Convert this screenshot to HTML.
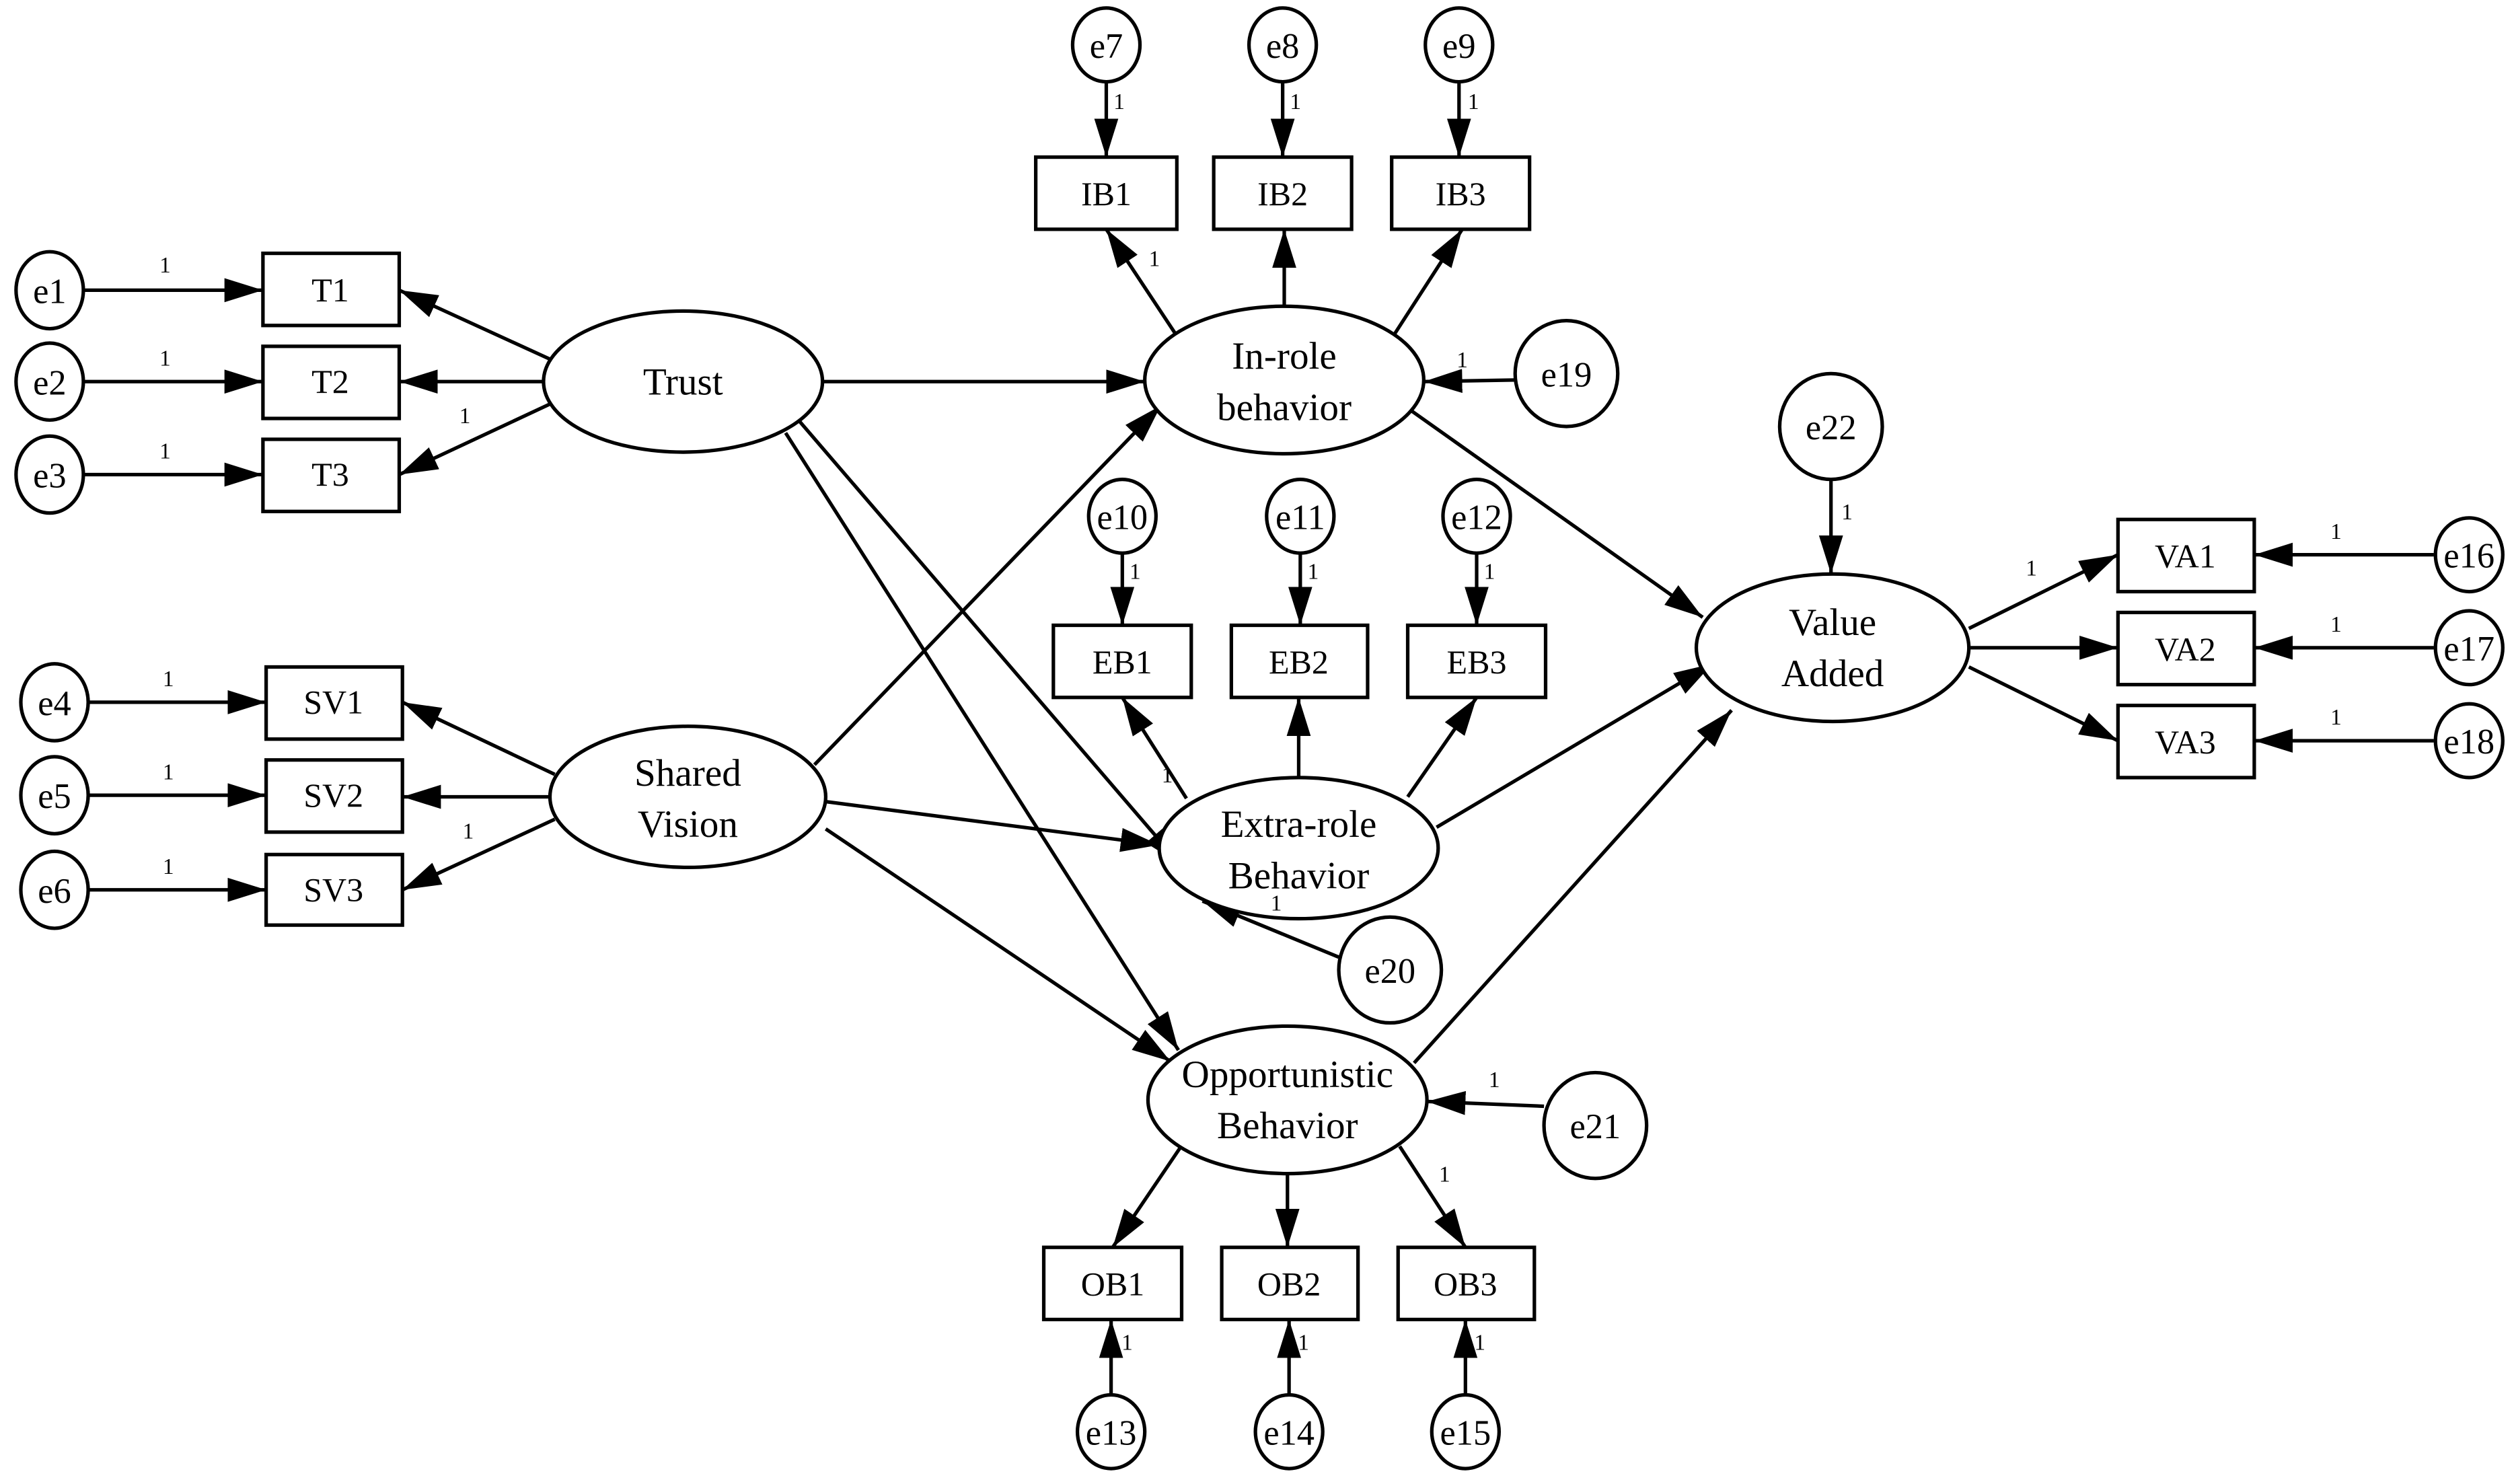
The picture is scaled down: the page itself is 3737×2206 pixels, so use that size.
<!DOCTYPE html>
<html><head><meta charset="utf-8"><style>
html,body{margin:0;padding:0;background:#fff;}
svg{display:block;}
text{font-family:"Liberation Serif",serif;fill:#000;}
</style></head><body>
<svg width="3737" height="2206" viewBox="0 0 1568 925.6" xmlns="http://www.w3.org/2000/svg">
<defs>
<marker id="a" markerUnits="userSpaceOnUse" markerWidth="26" markerHeight="16" refX="24" refY="7.5" orient="auto">
<path d="M0,0 L24,7.5 L0,15 z" fill="#000"/>
</marker>
</defs>
<g stroke="#000" stroke-width="2.2" fill="none" marker-end="url(#a)">
<line x1="53" y1="181" x2="164" y2="181"/>
<line x1="53" y1="238" x2="164" y2="238"/>
<line x1="53" y1="296" x2="164" y2="296"/>
<line x1="343" y1="224" x2="249" y2="181"/>
<line x1="339" y1="238" x2="249" y2="238"/>
<line x1="343" y1="252" x2="249" y2="296"/>
<line x1="56" y1="438" x2="166" y2="438"/>
<line x1="56" y1="496" x2="166" y2="496"/>
<line x1="56" y1="555" x2="166" y2="555"/>
<line x1="346" y1="483" x2="251" y2="438"/>
<line x1="343" y1="497" x2="251" y2="497"/>
<line x1="346" y1="511" x2="251" y2="555"/>
<line x1="690" y1="50" x2="690" y2="98"/>
<line x1="800" y1="50" x2="800" y2="98"/>
<line x1="910" y1="50" x2="910" y2="98"/>
<line x1="733" y1="208" x2="690" y2="143"/>
<line x1="801" y1="191" x2="801" y2="143"/>
<line x1="870" y1="208" x2="912" y2="143"/>
<line x1="945" y1="237" x2="888" y2="238"/>
<line x1="513" y1="238" x2="714" y2="238"/>
<line x1="508" y1="477" x2="724" y2="253"/>
<line x1="498" y1="262" x2="736" y2="539"/>
<line x1="490" y1="270" x2="735" y2="655"/>
<line x1="515" y1="500" x2="723" y2="527"/>
<line x1="515" y1="517" x2="730" y2="662"/>
<line x1="880" y1="256" x2="1062" y2="385"/>
<line x1="700" y1="344" x2="700" y2="390"/>
<line x1="811" y1="344" x2="811" y2="390"/>
<line x1="921" y1="344" x2="921" y2="390"/>
<line x1="740" y1="498" x2="700" y2="435"/>
<line x1="810" y1="485" x2="810" y2="435"/>
<line x1="878" y1="497" x2="921" y2="435"/>
<line x1="896" y1="516" x2="1068" y2="414"/>
<line x1="835" y1="597" x2="750" y2="562"/>
<line x1="882" y1="663" x2="1080" y2="443"/>
<line x1="963" y1="690" x2="890" y2="687"/>
<line x1="736" y1="716" x2="694" y2="778"/>
<line x1="803" y1="732" x2="803" y2="778"/>
<line x1="873" y1="715" x2="914" y2="778"/>
<line x1="693" y1="871" x2="693" y2="823"/>
<line x1="804" y1="871" x2="804" y2="823"/>
<line x1="914" y1="871" x2="914" y2="823"/>
<line x1="1142" y1="298" x2="1142" y2="358"/>
<line x1="1228" y1="392" x2="1321" y2="346"/>
<line x1="1229" y1="404" x2="1321" y2="404"/>
<line x1="1228" y1="416" x2="1321" y2="462"/>
<line x1="1518" y1="346" x2="1406" y2="346"/>
<line x1="1518" y1="404" x2="1406" y2="404"/>
<line x1="1518" y1="462" x2="1406" y2="462"/>
</g>
<g stroke="#000" stroke-width="2.2" fill="#fff">
<rect x="164" y="158" width="85" height="45"/>
<rect x="164" y="216" width="85" height="45"/>
<rect x="164" y="274" width="85" height="45"/>
<rect x="166" y="416" width="85" height="45"/>
<rect x="166" y="474" width="85" height="45"/>
<rect x="166" y="533" width="85" height="44"/>
<rect x="646" y="98" width="88" height="45"/>
<rect x="757" y="98" width="86" height="45"/>
<rect x="868" y="98" width="86" height="45"/>
<rect x="657" y="390" width="86" height="45"/>
<rect x="768" y="390" width="85" height="45"/>
<rect x="878" y="390" width="86" height="45"/>
<rect x="651" y="778" width="86" height="45"/>
<rect x="762" y="778" width="85" height="45"/>
<rect x="872" y="778" width="85" height="45"/>
<rect x="1321" y="324" width="85" height="45"/>
<rect x="1321" y="382" width="85" height="45"/>
<rect x="1321" y="440" width="85" height="45"/>
<ellipse cx="31" cy="181" rx="21" ry="24"/>
<ellipse cx="31" cy="238" rx="21" ry="24"/>
<ellipse cx="31" cy="296" rx="21" ry="24"/>
<ellipse cx="34" cy="438" rx="21" ry="24"/>
<ellipse cx="34" cy="496" rx="21" ry="24"/>
<ellipse cx="34" cy="555" rx="21" ry="24"/>
<ellipse cx="690" cy="28" rx="21" ry="23"/>
<ellipse cx="800" cy="28" rx="21" ry="23"/>
<ellipse cx="910" cy="28" rx="21" ry="23"/>
<ellipse cx="700" cy="322" rx="21" ry="23"/>
<ellipse cx="811" cy="322" rx="21" ry="23"/>
<ellipse cx="921" cy="322" rx="21" ry="23"/>
<ellipse cx="693" cy="893" rx="21" ry="23"/>
<ellipse cx="804" cy="893" rx="21" ry="23"/>
<ellipse cx="914" cy="893" rx="21" ry="23"/>
<ellipse cx="1540" cy="346" rx="21" ry="23"/>
<ellipse cx="1540" cy="404" rx="21" ry="23"/>
<ellipse cx="1540" cy="462" rx="21" ry="23"/>
<ellipse cx="977" cy="233" rx="32" ry="33"/>
<ellipse cx="867" cy="605" rx="32" ry="33"/>
<ellipse cx="995" cy="702" rx="32" ry="33"/>
<ellipse cx="1142" cy="266" rx="32" ry="33"/>
<ellipse cx="426" cy="238" rx="87" ry="44"/>
<ellipse cx="429" cy="497" rx="86" ry="44"/>
<ellipse cx="801" cy="237" rx="87" ry="46"/>
<ellipse cx="810" cy="529" rx="87" ry="44"/>
<ellipse cx="803" cy="686" rx="87" ry="46"/>
<ellipse cx="1143" cy="404" rx="85" ry="46"/>
</g>
<g font-size="21" text-anchor="middle">
<text x="206" y="188">T1</text><text x="206" y="245">T2</text><text x="206" y="303">T3</text>
<text x="208" y="445">SV1</text><text x="208" y="503">SV2</text><text x="208" y="562">SV3</text>
<text x="690" y="128">IB1</text><text x="800" y="128">IB2</text><text x="911" y="128">IB3</text>
<text x="700" y="420">EB1</text><text x="810" y="420">EB2</text><text x="921" y="420">EB3</text>
<text x="694" y="808">OB1</text><text x="804" y="808">OB2</text><text x="914" y="808">OB3</text>
<text x="1363" y="354">VA1</text><text x="1363" y="412">VA2</text><text x="1363" y="470">VA3</text>
</g>
<g font-size="22" text-anchor="middle">
<text x="31" y="189">e1</text><text x="31" y="246">e2</text><text x="31" y="304">e3</text>
<text x="34" y="446">e4</text><text x="34" y="504">e5</text><text x="34" y="563">e6</text>
<text x="690" y="36">e7</text><text x="800" y="36">e8</text><text x="910" y="36">e9</text>
<text x="700" y="330">e10</text><text x="811" y="330">e11</text><text x="921" y="330">e12</text>
<text x="693" y="901">e13</text><text x="804" y="901">e14</text><text x="914" y="901">e15</text>
<text x="1540" y="354">e16</text><text x="1540" y="412">e17</text><text x="1540" y="470">e18</text>
<text x="977" y="241">e19</text><text x="867" y="613">e20</text><text x="995" y="710">e21</text><text x="1142" y="274">e22</text>
</g>
<g font-size="24" text-anchor="middle">
<text x="426" y="246">Trust</text>
<text x="429" y="490">Shared</text><text x="429" y="522">Vision</text>
<text x="801" y="230">In-role</text><text x="801" y="262">behavior</text>
<text x="810" y="522">Extra-role</text><text x="810" y="554">Behavior</text>
<text x="803" y="678">Opportunistic</text><text x="803" y="710">Behavior</text>
<text x="1143" y="396">Value</text><text x="1143" y="428">Added</text>
</g>
<g font-size="14" text-anchor="middle">
<text x="103" y="170">1</text><text x="103" y="228">1</text><text x="103" y="286">1</text>
<text x="290" y="264">1</text>
<text x="105" y="428">1</text><text x="105" y="486">1</text><text x="105" y="545">1</text>
<text x="292" y="523">1</text>
<text x="698" y="68">1</text><text x="808" y="68">1</text><text x="919" y="68">1</text>
<text x="720" y="166">1</text>
<text x="912" y="229">1</text>
<text x="708" y="361">1</text><text x="819" y="361">1</text><text x="929" y="361">1</text>
<text x="728" y="488">1</text>
<text x="796" y="568">1</text>
<text x="932" y="678">1</text>
<text x="901" y="737">1</text>
<text x="703" y="842">1</text><text x="813" y="842">1</text><text x="923" y="842">1</text>
<text x="1152" y="324">1</text>
<text x="1267" y="359">1</text>
<text x="1457" y="336">1</text><text x="1457" y="394">1</text><text x="1457" y="452">1</text>
</g>
</svg>
</body></html>
